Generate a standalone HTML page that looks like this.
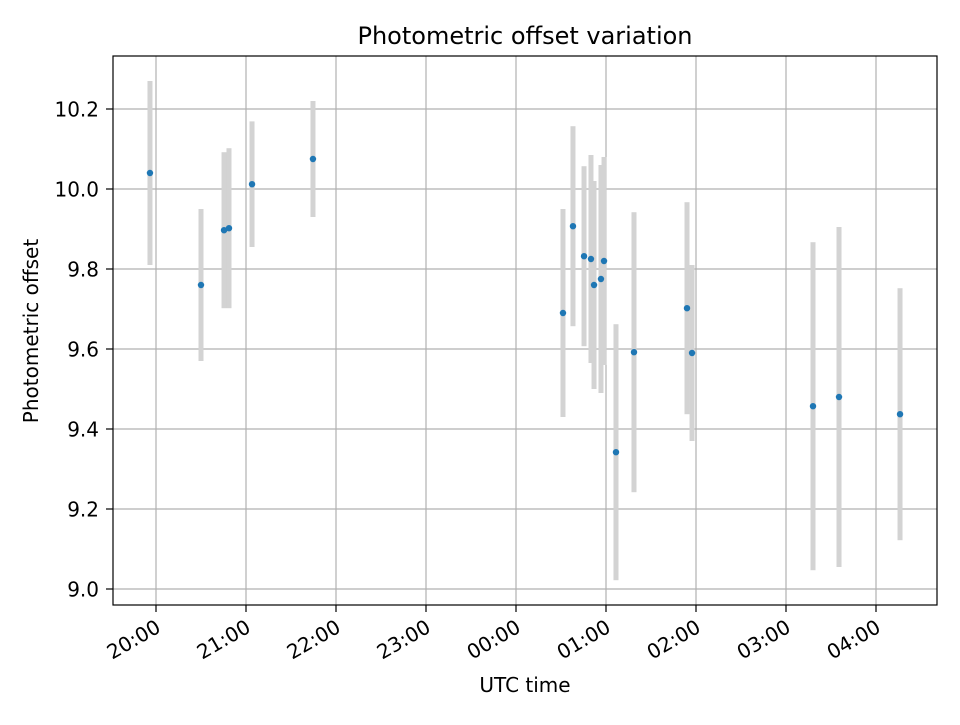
<!DOCTYPE html>
<html><head><meta charset="utf-8"><style>
body{margin:0;background:#fff}
svg text{font-family:"DejaVu Sans","Liberation Sans",sans-serif;fill:#000}
</style></head><body>
<svg id="chart" width="960" height="720" xmlns="http://www.w3.org/2000/svg">
<rect width="960" height="720" fill="#fff"/>
<g id="grid"></g><g id="bars"></g><g id="pts"></g><g id="axes"></g>
<text x="525" y="44" text-anchor="middle" font-size="24">Photometric offset variation</text>
<text x="525" y="692" text-anchor="middle" font-size="20">UTC time</text>
<text transform="translate(38,331) rotate(-90)" text-anchor="middle" font-size="20">Photometric offset</text>
</svg>
<script>
// hours after 20:00 UTC
const times=[-0.067,0.5,0.756,0.811,1.067,1.744,4.522,4.633,4.756,4.833,4.867,4.944,4.978,5.111,5.311,5.9,5.956,7.3,7.589,8.267];
const offsets=[10.04,9.76,9.897,9.902,10.012,10.075,9.69,9.907,9.832,9.825,9.76,9.775,9.82,9.342,9.592,9.702,9.59,9.457,9.48,9.437];
const errors=[0.23,0.19,0.195,0.2,0.157,0.145,0.26,0.25,0.225,0.26,0.26,0.285,0.26,0.32,0.35,0.265,0.22,0.41,0.425,0.315];
const yTicks=[9.0,9.2,9.4,9.6,9.8,10.0,10.2];
const xTickLabels=["20:00","21:00","22:00","23:00","00:00","01:00","02:00","03:00","04:00"];
const L=113,R=937,T=56,B=605;
const xs=h=>156+h*90;
const ys=v=>589-(v-9)*400;
const NS="http://www.w3.org/2000/svg";
function mk(tag,attrs,parent,txt){const e=document.createElementNS(NS,tag);for(const k in attrs)e.setAttribute(k,attrs[k]);if(txt!==undefined)e.textContent=txt;document.getElementById(parent).appendChild(e);return e;}
xTickLabels.forEach((lab,i)=>{const x=xs(i);
 const g=mk('line',{x1:x,x2:x,y1:T,y2:B,stroke:'#b0b0b0','stroke-width':1.2},'grid');
 
 
 const t=mk('line',{x1:x,x2:x,y1:B,y2:B+7,stroke:'#000','stroke-width':1.2},'axes');
 
 
 const tx=mk('text',{transform:`translate(${x+6},${B+26}) rotate(-30)`,'text-anchor':'end','font-size':20},'axes',lab);
 
 
});
yTicks.forEach(v=>{const y=ys(v);
 const g=mk('line',{x1:L,x2:R,y1:y,y2:y,stroke:'#b0b0b0','stroke-width':1.2},'grid');
 
 
 const t=mk('line',{x1:L-7,x2:L,y1:y,y2:y,stroke:'#000','stroke-width':1.2},'axes');
 
 
 const tx=mk('text',{x:L-14,y:y+7.5,'text-anchor':'end','font-size':20},'axes',v.toFixed(1));
 
 
});
const frame=mk('rect',{x:L,y:T,width:R-L,height:B-T,fill:'none',stroke:'#000','stroke-width':1.2},'axes');


times.forEach((h,i)=>{const x=xs(h);
 const b=mk('rect',{x:x-2.5,y:ys(offsets[i]+errors[i]),width:5,height:ys(offsets[i]-errors[i])-ys(offsets[i]+errors[i]),fill:'#d3d3d3'},'bars');
 
 
 const c=mk('circle',{cx:x,cy:ys(offsets[i]),r:3.2,fill:'#1f77b4'},'pts');
 
 
});
</script>
</body></html>
